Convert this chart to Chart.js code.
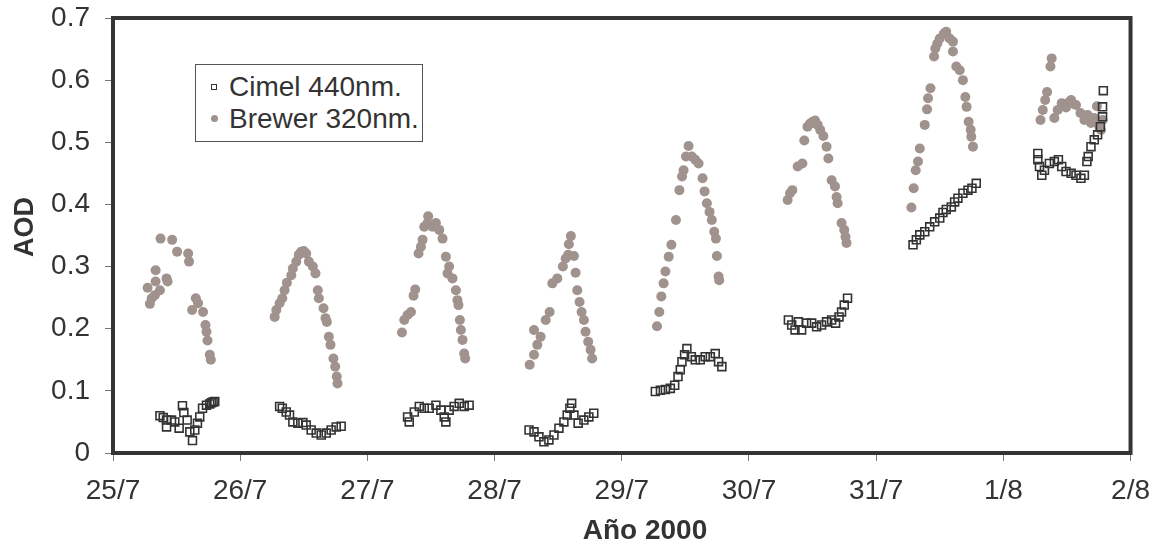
<!DOCTYPE html>
<html lang="es">
<head>
<meta charset="utf-8">
<title>AOD Cimel / Brewer</title>
<script src="https://cdn.jsdelivr.net/npm/chart.js@4.4.1/dist/chart.umd.min.js"></script>
<style>
  html, body { margin: 0; padding: 0; background: #fff; }
  #wrap { position: relative; width: 1163px; height: 555px; }
  #leyenda {
    position: absolute; left: 195px; top: 64px; width: 226px; height: 76px;
    border: 1px solid #555; background: #fff;
    font-family: 'Liberation Sans', Arial, sans-serif; font-size: 28px; color: #333;
  }
  .fila { position: absolute; left: 0; width: 100%; height: 32px; line-height: 32px; white-space: nowrap; }
  .fila .txt { position: absolute; left: 33px; top: 0; }
  .cuadro { position: absolute; left: 15px; top: 13px; width: 4px; height: 4px; border: 1px solid #333; }
  .punto { position: absolute; left: 15px; top: 12px; width: 7px; height: 7px; border-radius: 50%; background: #a0928d; }
  .tituloEje {
    position: absolute; font-family: 'Liberation Sans', Arial, sans-serif; font-weight: bold;
    font-size: 28px; line-height: 32px; color: #333; white-space: nowrap;
  }
  #tituloX { left: 645px; top: 514px; transform: translateX(-50%); }
  #tituloY { left: 24px; top: 227px; transform: translate(-50%, -50%) rotate(-90deg); font-size: 27px; }
</style>
</head>
<body>
<div id="wrap">
  <canvas id="graficoAod" width="1163" height="555"></canvas>
  <div id="leyenda">
    <div class="fila" style="top:6px"><span class="cuadro"></span><span class="txt">Cimel 440nm.</span></div>
    <div class="fila" style="top:38px"><span class="punto"></span><span class="txt">Brewer 320nm.</span></div>
  </div>
  <div class="tituloEje" id="tituloX">Año 2000</div>
  <div class="tituloEje" id="tituloY">AOD</div>
</div>
<script>
// Etiquetas de los ejes
const etiquetasDias = ['25/7', '26/7', '27/7', '28/7', '29/7', '30/7', '31/7', '1/8', '2/8'];
const etiquetasAod = ['0', '0.1', '0.2', '0.3', '0.4', '0.5', '0.6', '0.7'];

// Cimel 440nm: tiempo en dias desde el 25/7 00:00 y AOD (una linea por dia)
const cimelTiempo = [
  0.369, 0.395, 0.421, 0.421, 0.460, 0.486, 0.520, 0.546, 0.557, 0.583, 0.604, 0.625, 0.643, 0.664, 0.682, 0.704, 0.735, 0.760, 0.774, 0.787, 0.800,
  1.310, 1.331, 1.362, 1.388, 1.414, 1.453, 1.493, 1.519, 1.558, 1.598, 1.637, 1.676, 1.715, 1.755, 1.794,
  2.316, 2.329, 2.369, 2.408, 2.447, 2.486, 2.539, 2.578, 2.604, 2.617, 2.643, 2.682, 2.722, 2.761, 2.800,
  3.271, 3.310, 3.349, 3.388, 3.427, 3.467, 3.506, 3.545, 3.571, 3.592, 3.606, 3.624, 3.657, 3.702, 3.741, 3.780,
  4.264, 4.304, 4.343, 4.382, 4.416, 4.442, 4.460, 4.473, 4.494, 4.512, 4.547, 4.578, 4.617, 4.656, 4.696, 4.735, 4.761, 4.787,
  5.310, 5.336, 5.362, 5.388, 5.414, 5.453, 5.493, 5.532, 5.571, 5.610, 5.650, 5.681, 5.708, 5.728, 5.749, 5.775,
  6.290, 6.316, 6.343, 6.382, 6.421, 6.460, 6.500, 6.525, 6.551, 6.591, 6.617, 6.643, 6.682, 6.722, 6.753, 6.787,
  7.271, 7.271, 7.284, 7.302, 7.323, 7.362, 7.401, 7.433, 7.459, 7.493, 7.533, 7.571, 7.610, 7.637, 7.657, 7.667, 7.689, 7.715, 7.741, 7.763, 7.780, 7.780, 7.786
];
const cimelAod = [
  0.060, 0.057, 0.053, 0.042, 0.053, 0.050, 0.040, 0.076, 0.065, 0.053, 0.034, 0.020, 0.037, 0.048, 0.058, 0.072, 0.077, 0.079, 0.081, 0.082, 0.083,
  0.075, 0.072, 0.066, 0.061, 0.050, 0.048, 0.049, 0.045, 0.037, 0.032, 0.029, 0.032, 0.037, 0.042, 0.043,
  0.058, 0.050, 0.066, 0.075, 0.072, 0.072, 0.077, 0.069, 0.058, 0.050, 0.069, 0.075, 0.080, 0.075, 0.077,
  0.037, 0.034, 0.026, 0.018, 0.021, 0.029, 0.040, 0.050, 0.061, 0.072, 0.080, 0.061, 0.048, 0.053, 0.058, 0.064,
  0.099, 0.101, 0.102, 0.104, 0.109, 0.123, 0.134, 0.147, 0.158, 0.168, 0.155, 0.150, 0.150, 0.155, 0.155, 0.160, 0.147, 0.139,
  0.214, 0.206, 0.198, 0.211, 0.198, 0.209, 0.209, 0.203, 0.206, 0.211, 0.214, 0.209, 0.219, 0.227, 0.238, 0.249,
  0.335, 0.343, 0.351, 0.356, 0.364, 0.372, 0.378, 0.387, 0.392, 0.396, 0.404, 0.410, 0.418, 0.423, 0.426, 0.434,
  0.482, 0.472, 0.461, 0.447, 0.455, 0.466, 0.469, 0.472, 0.461, 0.453, 0.450, 0.447, 0.442, 0.447, 0.469, 0.477, 0.493, 0.504, 0.512, 0.525, 0.541, 0.557, 0.583
];

// Brewer 320nm
const brewerTiempo = [
  0.272, 0.290, 0.304, 0.329, 0.335, 0.335, 0.369, 0.374, 0.421, 0.429, 0.465, 0.504, 0.591, 0.598, 0.622, 0.651, 0.669, 0.708, 0.727, 0.735, 0.743, 0.761, 0.769,
  1.271, 1.284, 1.310, 1.331, 1.349, 1.367, 1.402, 1.414, 1.441, 1.461, 1.480, 1.500, 1.519, 1.540, 1.571, 1.592, 1.610, 1.618, 1.655, 1.671, 1.681, 1.697, 1.710, 1.733, 1.747, 1.759, 1.765,
  2.272, 2.290, 2.316, 2.343, 2.363, 2.376, 2.402, 2.421, 2.434, 2.447, 2.473, 2.478, 2.512, 2.539, 2.565, 2.591, 2.617, 2.630, 2.643, 2.669, 2.696, 2.708, 2.716, 2.727, 2.735, 2.748, 2.761, 2.769,
  3.276, 3.310, 3.310, 3.336, 3.362, 3.402, 3.433, 3.454, 3.493, 3.537, 3.559, 3.579, 3.584, 3.600, 3.624, 3.637, 3.650, 3.668, 3.684, 3.702, 3.715, 3.736, 3.755, 3.767,
  4.277, 4.295, 4.311, 4.329, 4.343, 4.369, 4.390, 4.426, 4.453, 4.474, 4.486, 4.505, 4.525, 4.551, 4.578, 4.604, 4.635, 4.651, 4.669, 4.690, 4.708, 4.727, 4.740, 4.748, 4.761, 4.766,
  5.304, 5.323, 5.341, 5.383, 5.420, 5.435, 5.460, 5.480, 5.500, 5.520, 5.540, 5.560, 5.585, 5.610, 5.624, 5.650, 5.676, 5.689, 5.697, 5.728, 5.749, 5.759, 5.767,
  6.277, 6.295, 6.311, 6.329, 6.343, 6.382, 6.400, 6.408, 6.427, 6.455, 6.465, 6.481, 6.500, 6.533, 6.551, 6.578, 6.604, 6.604, 6.630, 6.657, 6.682, 6.701, 6.711, 6.727, 6.743, 6.748, 6.761,
  7.292, 7.310, 7.329, 7.344, 7.370, 7.380, 7.401, 7.427, 7.459, 7.480, 7.493, 7.520, 7.533, 7.550, 7.571, 7.606, 7.637, 7.663, 7.689, 7.715, 7.736, 7.754, 7.767, 7.780
];
const brewerAod = [
  0.266, 0.240, 0.249, 0.254, 0.276, 0.294, 0.262, 0.345, 0.281, 0.276, 0.343, 0.324, 0.321, 0.308, 0.230, 0.249, 0.241, 0.227, 0.206, 0.195, 0.181, 0.158, 0.150,
  0.219, 0.230, 0.241, 0.249, 0.262, 0.274, 0.286, 0.297, 0.308, 0.319, 0.324, 0.325, 0.321, 0.308, 0.300, 0.289, 0.262, 0.249, 0.233, 0.217, 0.211, 0.187, 0.174, 0.152, 0.139, 0.123, 0.112,
  0.194, 0.214, 0.222, 0.227, 0.253, 0.263, 0.321, 0.332, 0.343, 0.364, 0.370, 0.381, 0.364, 0.370, 0.359, 0.345, 0.316, 0.289, 0.300, 0.281, 0.262, 0.246, 0.238, 0.214, 0.198, 0.182, 0.160, 0.152,
  0.142, 0.158, 0.198, 0.174, 0.187, 0.214, 0.227, 0.273, 0.281, 0.300, 0.313, 0.319, 0.336, 0.349, 0.317, 0.290, 0.262, 0.243, 0.227, 0.214, 0.195, 0.179, 0.166, 0.152,
  0.204, 0.227, 0.252, 0.273, 0.292, 0.316, 0.335, 0.375, 0.423, 0.445, 0.455, 0.477, 0.494, 0.477, 0.472, 0.466, 0.442, 0.421, 0.402, 0.388, 0.375, 0.356, 0.345, 0.317, 0.284, 0.278,
  0.407, 0.418, 0.423, 0.461, 0.466, 0.503, 0.525, 0.530, 0.533, 0.535, 0.528, 0.520, 0.510, 0.493, 0.474, 0.439, 0.429, 0.412, 0.402, 0.370, 0.359, 0.348, 0.338,
  0.395, 0.426, 0.455, 0.469, 0.490, 0.528, 0.553, 0.571, 0.587, 0.638, 0.651, 0.659, 0.667, 0.675, 0.678, 0.667, 0.662, 0.646, 0.622, 0.616, 0.600, 0.573, 0.557, 0.533, 0.520, 0.509, 0.493,
  0.536, 0.552, 0.568, 0.581, 0.622, 0.635, 0.539, 0.552, 0.563, 0.560, 0.556, 0.565, 0.568, 0.562, 0.560, 0.547, 0.536, 0.544, 0.531, 0.539, 0.558, 0.525, 0.520, 0.536
];

const fuente = "'Liberation Sans', Arial, sans-serif";
const colorTexto = '#333';

// Marco grueso alrededor del area de trazado
const marcoPlot = {
  id: 'marcoPlot',
  afterDatasetsDraw(chart) {
    const { ctx, chartArea: a } = chart;
    ctx.save();
    ctx.strokeStyle = '#353535';
    ctx.lineWidth = 4;
    ctx.strokeRect(a.left, a.top, a.right - a.left, a.bottom - a.top);
    ctx.restore();
  }
};

const ctx = document.getElementById('graficoAod').getContext('2d');

new Chart(ctx, {
  type: 'scatter',
  data: {
    datasets: [{
      label: 'Cimel 440nm.',
      data: cimelTiempo.map((t, i) => ({ x: t, y: cimelAod[i] })),
      pointStyle: 'rect',
      pointRadius: 5.6,
      borderColor: '#333',
      borderWidth: 1.6,
      backgroundColor: 'rgba(0,0,0,0)'
    }, {
      label: 'Brewer 320nm.',
      data: brewerTiempo.map((t, i) => ({ x: t, y: brewerAod[i] })),
      pointStyle: 'circle',
      pointRadius: 5,
      borderWidth: 0,
      backgroundColor: '#a0928d'
    }]
  },
  options: {
    responsive: false,
    animation: false,
    devicePixelRatio: 1,
    layout: { padding: { top: 18, right: 27, left: 0, bottom: 0 } },
    plugins: {
      legend: { display: false },
      tooltip: { enabled: false }
    },
    scales: {
      x: {
        type: 'linear',
        min: 0,
        max: 8,
        afterFit(s) { s.height = 102; },
        border: { display: false },
        grid: { drawOnChartArea: false, drawTicks: true, tickLength: 8, color: '#777' },
        ticks: {
          stepSize: 1,
          padding: 13,
          color: colorTexto,
          font: { family: fuente, size: 28 },
          maxRotation: 0,
          callback: (v, i) => etiquetasDias[i]
        }
      },
      y: {
        min: 0,
        max: 0.7,
        // ancho fijo y sin relleno extra arriba/abajo para que el area coincida
        afterFit(s) { s.width = 113; s.paddingTop = 0; s.paddingBottom = 0; },
        border: { display: false },
        grid: { drawOnChartArea: false, drawTicks: true, tickLength: 8, color: '#777' },
        ticks: {
          stepSize: 0.1,
          padding: 15,
          color: colorTexto,
          font: { family: fuente, size: 28 },
          callback: (v, i) => etiquetasAod[i]
        }
      }
    }
  },
  plugins: [marcoPlot]
});
</script>
</body>
</html>
